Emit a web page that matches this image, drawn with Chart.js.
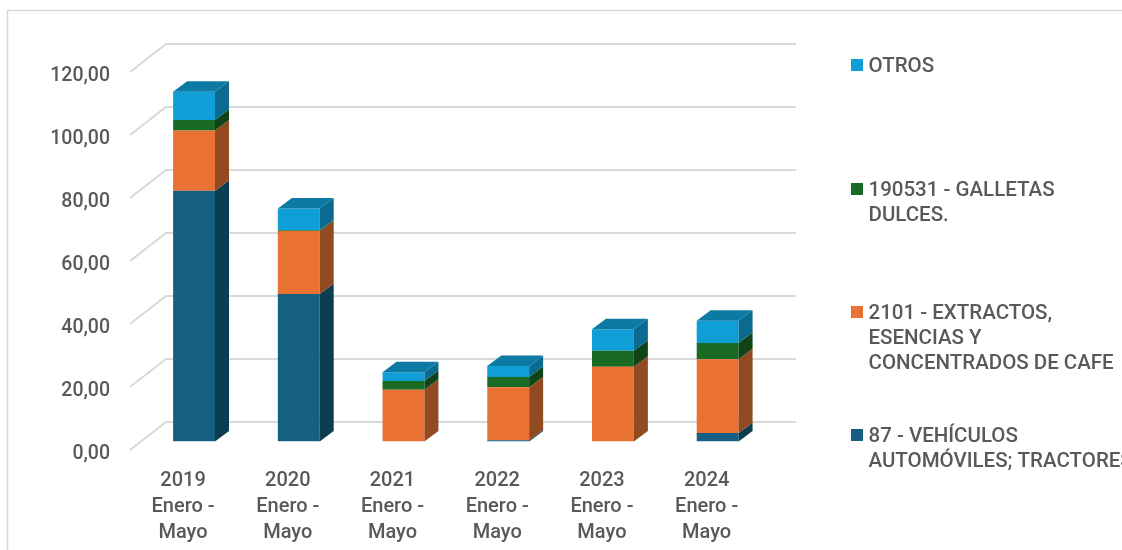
<!DOCTYPE html>
<html>
<head>
<meta charset="utf-8">
<style>html,body{margin:0;padding:0;background:#fff;overflow:hidden}canvas{display:block}</style>
<script src="https://cdn.jsdelivr.net/npm/chart.js@4"></script>
</head>
<body>
<div style="position:relative;width:1122px;height:550px"><canvas id="c" width="1122" height="550"></canvas></div>
<script>
const categories = [["2019","Enero -","Mayo"],["2020","Enero -","Mayo"],["2021","Enero -","Mayo"],["2022","Enero -","Mayo"],["2023","Enero -","Mayo"],["2024","Enero -","Mayo"]];
const vehiculos = [79.6,46.8,0,0.4,0,2.7];
const extractos = [19.1,20.0,16.4,16.8,23.7,23.4];
const galletas = [3.4,0.3,2.8,3.3,5.1,5.2];
const otros = [8.9,6.9,2.8,3.5,6.8,7.0];
const gridValues = [0,20,40,60,80,100,120];
const legendLines = [["OTROS"],["190531 - GALLETAS","DULCES."],["2101 - EXTRACTOS,","ESENCIAS Y","CONCENTRADOS DE CAFE"],["87 - VEHÍCULOS","AUTOMÓVILES; TRACTORES"]];
const legendColors = ["#0F9ED5","#196B24","#E97132","#156082"];
const legendNames = ["87 - VEHÍCULOS AUTOMÓVILES; TRACTORES","2101 - EXTRACTOS, ESENCIAS Y CONCENTRADOS DE CAFE","190531 - GALLETAS DULCES.","OTROS"];

const FONT = '500 20.5px Roboto';
const TEXT = '#595959';
const sideColors = ["#0C3D52","#924A20","#104418","#0A6A8F"];
const topColor = "#0C7AA3";

const scene = {
  id:'scene',
  beforeDatasetsDraw(chart){
    const ctx=chart.ctx, y=chart.scales.y;
    ctx.save();
    // frame
    ctx.strokeStyle='#D9D9D9'; ctx.lineWidth=1.5;
    ctx.beginPath(); ctx.moveTo(7.5,550); ctx.lineTo(7.5,10.5); ctx.lineTo(1122,10.5); ctx.stroke();
    // wall + floor lines
    ctx.lineWidth=2;
    gridValues.forEach(v=>{
      const p=y.getPixelForValue(v);
      ctx.beginPath();
      ctx.moveTo(130,p+8.5);
      ctx.lineTo(166,p-19.5);
      ctx.lineTo(796,p-19.5);
      ctx.stroke();
    });
    ctx.restore();
  },
  afterDatasetsDraw(chart){
    const ctx=chart.ctx, dx=14, dy=10.5;
    ctx.save();
    const n=chart.data.labels.length;
    for(let i=0;i<n;i++){
      let topEl=null;
      chart.data.datasets.forEach((ds,d)=>{
        const el=chart.getDatasetMeta(d).data[i];
        if(!ds.data[i]) return;
        const r=el.x+el.width/2;
        ctx.fillStyle=sideColors[d];
        ctx.beginPath();
        ctx.moveTo(r,el.y); ctx.lineTo(r+dx,el.y-dy); ctx.lineTo(r+dx,el.base-dy); ctx.lineTo(r,el.base);
        ctx.closePath(); ctx.fill();
        topEl=el;
      });
      if(topEl){
        const l=topEl.x-topEl.width/2, r=topEl.x+topEl.width/2, t=topEl.y;
        ctx.fillStyle=topColor;
        ctx.beginPath();
        ctx.moveTo(l,t); ctx.lineTo(l+dx,t-dy); ctx.lineTo(r+dx,t-dy); ctx.lineTo(r,t);
        ctx.closePath(); ctx.fill();
      }
    }
    // legend
    ctx.font=FONT; ctx.fillStyle=TEXT; ctx.textBaseline='middle'; ctx.textAlign='left';
    const tops=[65,189,312,435];
    legendLines.forEach((lines,i)=>{
      ctx.fillStyle=legendColors[i];
      ctx.fillRect(851,tops[i]-6,12,12);
      ctx.fillStyle=TEXT;
      lines.forEach((s,j)=>ctx.fillText(s,868.5,tops[i]+2+j*25));
    });
    ctx.restore();
  }
};

function ds(label,data,color){
  return {label,data,backgroundColor:color,borderWidth:0,categoryPercentage:1,barPercentage:0.4};
}

new Chart(document.getElementById('c'),{
  type:'bar',
  plugins:[scene],
  data:{
    labels:categories,
    datasets:[
      ds(legendNames[0],vehiculos,"#156082"),
      ds(legendNames[1],extractos,"#E97132"),
      ds(legendNames[2],galletas,"#196B24"),
      ds(legendNames[3],otros,"#0F9ED5")
    ]
  },
  options:{
    responsive:false,
    animation:false,
    layout:{padding:{top:63.5,right:352,left:0,bottom:0}},
    plugins:{legend:{display:false},tooltip:{enabled:false},title:{display:false}},
    scales:{
      x:{
        stacked:true,
        grid:{display:false},
        border:{display:false},
        afterFit(s){s.height=108.5;},
        ticks:{color:TEXT,font:{family:'Roboto',size:20,weight:'500',lineHeight:'26px'},labelOffset:-11,padding:18,maxRotation:0,autoSkip:false}
      },
      y:{
        stacked:true,min:0,max:120,
        grid:{display:false},
        border:{display:false},
        afterFit(s){s.width=141.7;},
        ticks:{color:TEXT,font:{family:'Roboto',size:19.5,weight:'500'},stepSize:20,padding:23.7,labelOffset:13,
          callback:v=>v.toFixed(2).replace('.',',')}
      }
    }
  }
});
</script>
</body>
</html>
